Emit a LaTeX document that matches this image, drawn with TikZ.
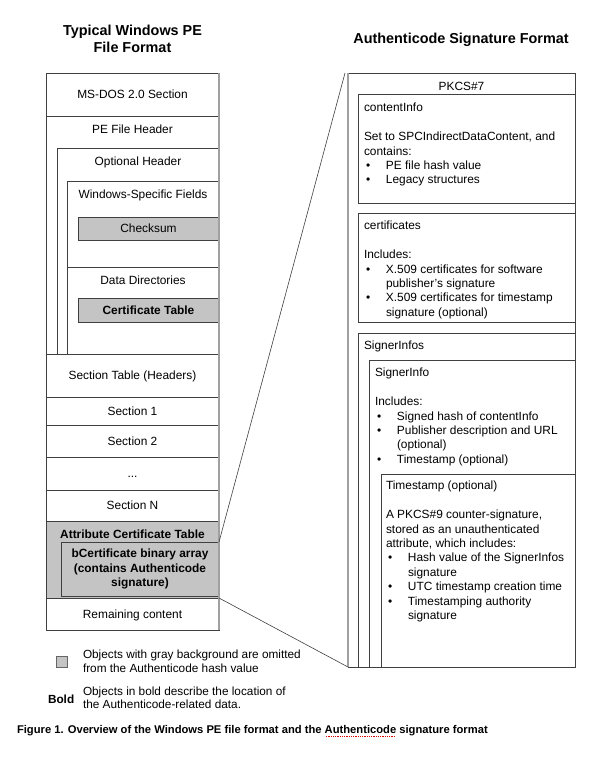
\documentclass[tikz,border=0pt]{standalone}
\usepackage{fontspec}
\setmainfont{Liberation Sans}
\definecolor{ln}{HTML}{404040}
\definecolor{edgeg}{HTML}{A0A0A0}
\definecolor{boxg}{HTML}{C4C4C4}
\newsavebox\sqbox
\newcommand\redsquig[1]{\sbox\sqbox{#1}\leavevmode\rlap{\raisebox{-3.4pt}{\color{red!85!black}\hbox to \wd\sqbox{\cleaders\hbox to 1.8pt{\hss\vrule width 0.9pt height 0.9pt\hss}\hfil}}}#1}
\newcommand\bul{\makebox[22pt][l]{\hspace*{2pt}\textbullet}}
\newcommand\ind{\hspace*{22pt}}
\begin{document}
\begin{tikzpicture}[x=1pt,y=-1pt,
  every node/.style={inner sep=0pt, outer sep=0pt},
  body/.style={font=\fontsize{11.9}{14.4}\selectfont},
  bodyb/.style={font=\fontsize{11.9}{14.4}\selectfont\bfseries},
  box/.style={draw=ln, line width=0.8pt, anchor=north west},
  grayfill/.style={fill=boxg},
  capsc/.style={text height=8.6pt, text depth=0pt},
  row/.style={box, minimum width=173pt, capsc, body},
  blk/.style={anchor=north west, align=left, body},
  lbl/.style={anchor=base, body},
  zoomln/.style={draw=ln, line width=0.6pt},
  edgeln/.style={draw=edgeg, line width=1.3pt}
]
\useasboundingbox (0,0) rectangle (603,771);
\fill[white] (0,0) rectangle (603,771);

% titles
\node[anchor=north, align=center, font=\fontsize{14.4}{17}\selectfont\bfseries] (tleft) at (132.5,23.3) {\strut Typical Windows PE\\File Format};
\node[anchor=base, font=\fontsize{14.4}{17}\selectfont\bfseries] (tright) at (461,43.2) {Authenticode Signature Format};

% left column
\node[box, minimum width=173pt, minimum height=557pt] (pe) at (46,73) {};
\node[row, minimum height=43pt] (msdos) at (46,73) {MS-DOS 2.0 Section};
\node[box, minimum width=173pt, minimum height=238pt] (pehdr) at (46,116) {};
\node[box, minimum width=162pt, minimum height=206pt] (opthdr) at (57,148) {};
\node[box, minimum width=152pt, minimum height=86pt] (winspec) at (67,181) {};
\node[box, minimum width=152pt, minimum height=87pt] (datadir) at (67,267) {};
\node[box, grayfill, minimum width=141pt, minimum height=23pt, capsc, body] (checksum) at (78,217) {Checksum};
\node[box, grayfill, minimum width=141pt, minimum height=24pt, capsc, bodyb] (certtab) at (78,298) {Certificate Table};
\node[row, minimum height=43pt] (sectab) at (46,354) {Section Table (Headers)};
\node[row, minimum height=28pt] (sec1) at (46,397) {Section 1};
\node[row, minimum height=32pt] (sec2) at (46,425) {Section 2};
\node[row, minimum height=33pt] (dots) at (46,457) {...};
\node[row, minimum height=31pt] (secN) at (46,490) {Section N};
\node[box, grayfill, minimum width=173pt, minimum height=77pt] (attr) at (46,521) {};
\node[box, grayfill, minimum width=158pt, minimum height=54pt] (bcert) at (61,542) {};
\node[row, minimum height=32pt] (remain) at (46,598) {Remaining content};
\draw[edgeln] (pe.north east) -- (pe.south east);

\node[lbl] (lpehdr) at (132.5,133.3) {PE File Header};
\node[lbl] (lopt) at (138,165.3) {Optional Header};
\node[lbl] (lwin) at (143,198.3) {Windows-Specific Fields};
\node[lbl] (ldd) at (143,284.3) {Data Directories};
\node[anchor=base, bodyb] (lattr) at (132.5,538.3) {Attribute Certificate Table};
\node[anchor=north, align=center, bodyb] (lbcert) at (140,547.9) {\strut bCertificate binary array\\(contains Authenticode\\signature)};

% right column
\node[box, minimum width=227pt, minimum height=594pt] (pkcs) at (348,73) {};
\node[lbl] (lpkcs) at (461.5,90.3) {PKCS\#7};
\node[box, minimum width=217pt, minimum height=109pt] (cinfo) at (358,94) {};
\node[box, minimum width=217pt, minimum height=109pt] (certs) at (358,213) {};
\node[box, minimum width=217pt, minimum height=334pt] (sinfos) at (358,333) {};
\node[box, minimum width=206pt, minimum height=307pt] (sinfo) at (369,360) {};
\node[box, minimum width=194pt, minimum height=193pt] (tstamp) at (381,474) {};
\draw[edgeln] (pkcs.north west) -- (pkcs.south west);

\node[blk] (tcinfo) at (364,101.8) {\strut contentInfo\\\mbox{}\\Set to SPCIndirectDataContent, and\\contains:\\\bul PE file hash value\\\bul Legacy structures};
\node[blk] (tcerts) at (364,219.8) {\strut certificates\\\mbox{}\\Includes:\\\bul X.509 certificates for software\\\ind publisher's signature\\\bul X.509 certificates for timestamp\\\ind signature (optional)};
\node[blk] (tsinfos) at (364,339.8) {\strut SignerInfos};
\node[blk] (tsinfo) at (375,366.8) {\strut SignerInfo\\\mbox{}\\Includes:\\\bul Signed hash of contentInfo\\\bul Publisher description and URL\\\ind (optional)\\\bul Timestamp (optional)};
\node[blk] (ttstamp) at (386,479.8) {\strut Timestamp (optional)\\\mbox{}\\A PKCS\#9 counter-signature,\\stored as an unauthenticated\\attribute, which includes:\\\bul Hash value of the SignerInfos\\\ind signature\\\bul UTC timestamp creation time\\\bul Timestamping authority\\\ind signature};

% zoom connectors
\draw[zoomln] (bcert.north east) -- ([xshift=-3pt]pkcs.north west);
\draw[zoomln] (attr.south east) -- (pkcs.south west);

% legend
\node[anchor=north west, draw=ln!80, fill=boxg, line width=0.8pt, minimum size=11pt] (legsq) at (56,656) {};
\node[anchor=north west, align=left, font=\fontsize{11.8}{13.4}\selectfont] (leggray) at (83,649.4) {\strut Objects with gray background are omitted\\from the Authenticode hash value};
\node[anchor=base west, font=\fontsize{11.8}{13.4}\selectfont\bfseries] (legboldw) at (48,703.6) {Bold};
\node[anchor=north west, align=left, font=\fontsize{11.8}{13.4}\selectfont] (legbold) at (83,686.1) {\strut Objects in bold describe the location of\\the Authenticode-related data.};

% caption
\node[anchor=base west, font=\fontsize{11.2}{13}\selectfont\bfseries] (caption) at (17,733) {Figure 1. Overview of the Windows PE file format and the \redsquig{Authenticode} signature format};
\end{tikzpicture}
\end{document}
